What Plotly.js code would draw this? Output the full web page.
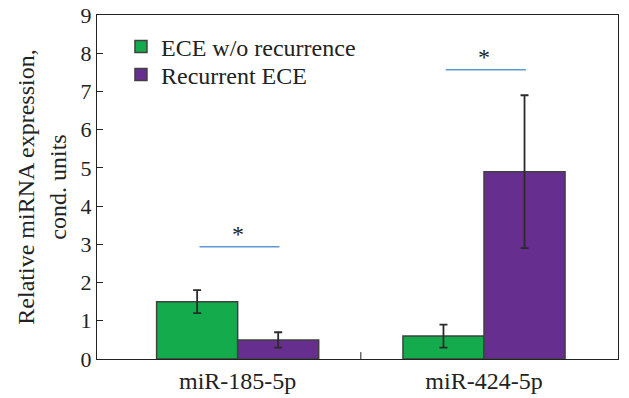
<!DOCTYPE html>
<html>
<head>
<meta charset="utf-8">
<script src="https://cdn.plot.ly/plotly-3.0.1.min.js"></script>
<style>html,body{margin:0;padding:0;background:#fff;}#chart{width:629px;height:398px;}</style>
</head>
<body>
<div id="chart"></div>
<script>
// Data
const categories = ["miR-185-5p", "miR-424-5p"];
const seriesNames = ["ECE w/o recurrence", "Recurrent ECE"];
const noRecurrence = [1.5, 0.6];
const noRecurrenceErr = [0.3, 0.3];
const recurrent = [0.5, 4.9];
const recurrentErr = [0.2, 2.0];
const sigLevels = [2.94, 7.57];   // height of significance lines
const sigLabels = ["*", "*"];
const yTicks = [0,1,2,3,4,5,6,7,8,9];

const FONT = "'Liberation Serif', 'Times New Roman', serif";
const catIdx = categories.map((c, i) => i);

const errStyle = {type: 'data', visible: true, color: '#2b2b2b', thickness: 1.8, width: 4};
const traces = [
  {
    type: 'bar', name: seriesNames[0], x: catIdx, y: noRecurrence, legend: 'legend',
    marker: {color: '#13ab4b', line: {color: '#404040', width: 1.5}},
    error_y: Object.assign({array: noRecurrenceErr}, errStyle)
  },
  {
    type: 'bar', name: seriesNames[1], x: catIdx, y: recurrent, legend: 'legend2',
    marker: {color: '#662e8f', line: {color: '#404040', width: 1.5}},
    error_y: Object.assign({array: recurrentErr}, errStyle)
  }
];

const shapes = sigLevels.map((lv, i) => ({
  type: 'line', xref: 'x', yref: 'y',
  x0: catIdx[i] - 0.155, x1: catIdx[i] + 0.17, y0: lv, y1: lv,
  line: {color: '#5b9bd5', width: 1.5}
}));
// divider tick between categories
shapes.push({type: 'line', xref: 'x', yref: 'paper', x0: 0.5, x1: 0.5, y0: 0, y1: 0.02,
  line: {color: '#222', width: 1}});

const annotations = sigLevels.map((lv, i) => ({
  x: catIdx[i], y: lv, xref: 'x', yref: 'y', text: sigLabels[i],
  showarrow: false, yanchor: 'bottom', yshift: -2,
  font: {family: FONT, size: 24, color: '#222'}
}));

const legendBase = {xanchor: 'left', yanchor: 'middle', bgcolor: 'rgba(0,0,0,0)',
  font: {family: FONT, size: 24, color: '#222'}};

const layout = {
  width: 629, height: 398,
  margin: {l: 97, r: 11, t: 15, b: 39},
  paper_bgcolor: '#fff', plot_bgcolor: '#fff',
  barmode: 'group', bargap: 0.342, bargroupgap: 0,
  font: {family: FONT, size: 22, color: '#222'},
  showlegend: true,
  legend: Object.assign({x: 0.046, y: 0.907}, legendBase),
  legend2: Object.assign({x: 0.046, y: 0.826}, legendBase),
  xaxis: {
    range: [-0.571, 1.544], tickmode: 'array', tickvals: catIdx, ticktext: categories,
    ticks: '', showline: true, linecolor: '#222', linewidth: 1, mirror: true,
    showgrid: false, zeroline: false, tickfont: {family: FONT, size: 24, color: '#222'}
  },
  yaxis: {
    range: [0, 9], tickmode: 'array', tickvals: yTicks,
    ticks: 'inside', ticklen: 6, tickcolor: '#222',
    showline: true, linecolor: '#222', linewidth: 1, mirror: true,
    showgrid: false, zeroline: false,
    tickfont: {family: FONT, size: 22, color: '#222'},
    title: {text: 'Relative miRNA expression,<br>cond. units', standoff: 7,
      font: {family: FONT, size: 24, color: '#222'}}
  },
  shapes: shapes, annotations: annotations
};

Plotly.newPlot('chart', traces, layout, {displayModeBar: false, staticPlot: true});
</script>
</body>
</html>
